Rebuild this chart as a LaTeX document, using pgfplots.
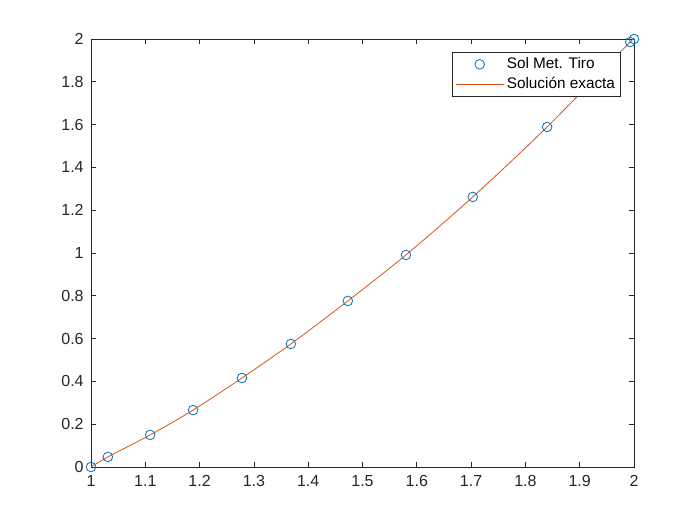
\documentclass[border=0pt]{standalone}
\usepackage{fontspec}
\setmainfont{Liberation Sans}
\usepackage{pgfplots}
\pgfplotsset{compat=1.18}
\definecolor{mblue}{rgb}{0,0.447,0.741}
\definecolor{morange}{rgb}{0.85,0.325,0.098}
\definecolor{axgray}{HTML}{262626}
\pgfplotsset{
  markleg/.style={legend image code/.code={\draw[##1] plot coordinates {(18pt,0pt)};}},
  lineleg/.style={legend image code/.code={\draw[##1] (0pt,0pt) -- (36pt,0pt);}},
}
\begin{document}
\begin{tikzpicture}
\useasboundingbox (-68.25pt,-43.5pt) rectangle (456.75pt,350.25pt);
\begin{axis}[
  at={(0,0)}, anchor=south west,
  scale only axis, width=407.25pt, height=321pt,
  xmin=1, xmax=2, ymin=0, ymax=2,
  xtick={1,1.1,1.2,1.3,1.4,1.5,1.6,1.7,1.8,1.9,2},
  ytick={0,0.2,0.4,0.6,0.8,1,1.2,1.4,1.6,1.8,2},
  xticklabels={1,1.1,1.2,1.3,1.4,1.5,1.6,1.7,1.8,1.9,2},
  yticklabels={0,0.2,0.4,0.6,0.8,1,1.2,1.4,1.6,1.8,2},
  tick align=inside, major tick length=3.75pt,
  axis line style={axgray, line width=0.5pt},
  every tick/.style={axgray, line width=0.5pt},
  tick label style={font=\fontsize{12}{14}\selectfont, text=axgray},
  xticklabel style={yshift=-2.5pt},
  yticklabel style={xshift=-2pt},
  /pgf/number format/assume math mode=true,
  legend style={at={(0.976,0.97)}, anchor=north east, draw=axgray, line width=0.5pt,
    font=\fontsize{11.5}{13.5}\selectfont, inner sep=2.2pt, row sep=1pt,
    cells={anchor=west}},
  legend cell align=left,
]
\addplot[only marks, mark=o, mark size=3.6pt, mblue, line width=0.6pt, markleg]
coordinates {
(1,0) (1.031,0.047) (1.109,0.150) (1.188,0.266) (1.278,0.416) (1.368,0.575)
(1.473,0.776) (1.580,0.991) (1.703,1.262) (1.840,1.589) (1.993,1.986) (2,2)
};
\addlegendentry{Sol Met. Tiro}
\addplot[morange, line width=0.6pt, smooth, no marks, lineleg]
coordinates {
(1,0) (1.031,0.047) (1.109,0.150) (1.188,0.266) (1.278,0.416) (1.368,0.575)
(1.473,0.776) (1.580,0.991) (1.703,1.262) (1.840,1.589) (1.993,1.986) (2,2)
};
\addlegendentry{Solución exacta}
\end{axis}
\end{tikzpicture}
\end{document}
